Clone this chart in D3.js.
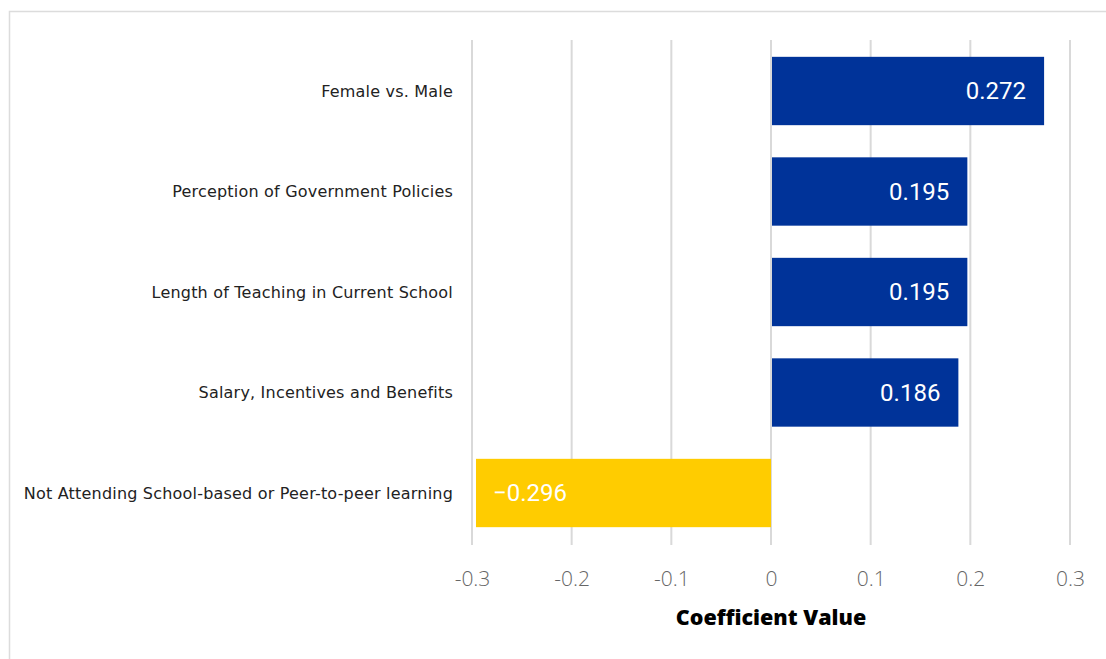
<!DOCTYPE html>
<html>
<head>
<meta charset="utf-8">
<script src="https://cdn.jsdelivr.net/npm/d3@7"></script>
<style>
  html, body { margin: 0; padding: 0; background: #fff; }
  svg { display: block; }
</style>
</head>
<body>
<svg id="chart" width="1106" height="659"></svg>
<script>
// Regression coefficients for each predictor
const categories = [
  "Female vs. Male",
  "Perception of Government Policies",
  "Length of Teaching in Current School",
  "Salary, Incentives and Benefits",
  "Not Attending School-based or Peer-to-peer learning"
];
const coefficients = [0.272, 0.195, 0.195, 0.186, -0.296];
const tickValues = [-0.3, -0.2, -0.1, 0, 0.1, 0.2, 0.3];
const tickLabels = ["-0.3", "-0.2", "-0.1", "0", "0.1", "0.2", "0.3"];
const axisTitle = "Coefficient Value";

const data = categories.map((c, i) => ({ name: c, value: coefficients[i] }));

const svg = d3.select("#chart");
const W = 1106, H = 659;

// frame around the chart area
svg.append("rect")
  .attr("x", 9.5).attr("y", 11.5)
  .attr("width", W + 20).attr("height", H + 20)
  .attr("fill", "none").attr("stroke", "#dcdcdc").attr("stroke-width", 1.5);

const x = d3.scaleLinear().domain([-0.3, 0.3]).range([472, 1070]);
const y = d3.scaleBand().domain(categories).range([40.75, 543.25])
  .paddingInner(0.32).paddingOuter(0.16);

// vertical gridlines
svg.append("g").selectAll("line").data(tickValues).join("line")
  .attr("x1", d => x(d)).attr("x2", d => x(d))
  .attr("y1", 40).attr("y2", 545)
  .attr("stroke", "#d9d9d9").attr("stroke-width", 2);

// bars
svg.append("g").selectAll("rect").data(data).join("rect")
  .attr("x", d => Math.min(x(0), x(d.value)) + (d.value > 0 ? 1 : 0))
  .attr("y", d => y(d.name))
  .attr("width", d => Math.abs(x(d.value) - x(0)) + (d.value > 0 ? 1 : 0))
  .attr("height", y.bandwidth())
  .attr("fill", d => d.value >= 0 ? "#003399" : "#ffcc00");

// value labels inside bars
svg.append("g").selectAll("text").data(data).join("text")
  .attr("x", d => d.value >= 0 ? x(d.value) - 16 : x(d.value) + 17)
  .attr("y", d => y(d.name) + y.bandwidth() / 2)
  .attr("dy", "0.35em")
  .attr("text-anchor", d => d.value >= 0 ? "end" : "start")
  .attr("fill", "#fff")
  .attr("font-family", "Roboto, sans-serif")
  .attr("font-size", 24)
  .text(d => d3.format(".3f")(d.value));

// category labels
svg.append("g").selectAll("text").data(data).join("text")
  .attr("x", 453)
  .attr("y", d => y(d.name) + y.bandwidth() / 2)
  .attr("dy", "0.35em")
  .attr("text-anchor", "end")
  .attr("fill", "#222")
  .attr("font-family", "'DejaVu Sans', sans-serif")
  .attr("font-size", 16)
  .attr("letter-spacing", 0.2)
  .text(d => d.name);

// x axis tick labels
const xAxis = d3.axisBottom(x).tickValues(tickValues)
  .tickFormat((d, i) => tickLabels[i]).tickSize(0).tickPadding(0);
const gx = svg.append("g").attr("transform", "translate(0,571)").call(xAxis);
gx.select(".domain").remove();
gx.selectAll("text")
  .attr("fill", "#666")
  .attr("font-family", "'Open Sans', sans-serif")
  .attr("font-size", 21)
  .attr("font-weight", 300);

// axis title
svg.append("text")
  .attr("x", x(0)).attr("y", 625)
  .attr("text-anchor", "middle")
  .attr("fill", "#000")
  .attr("font-family", "'Open Sans', sans-serif")
  .attr("font-size", 21.5)
  .attr("font-weight", 800)
  .text(axisTitle);
</script>
</body>
</html>
